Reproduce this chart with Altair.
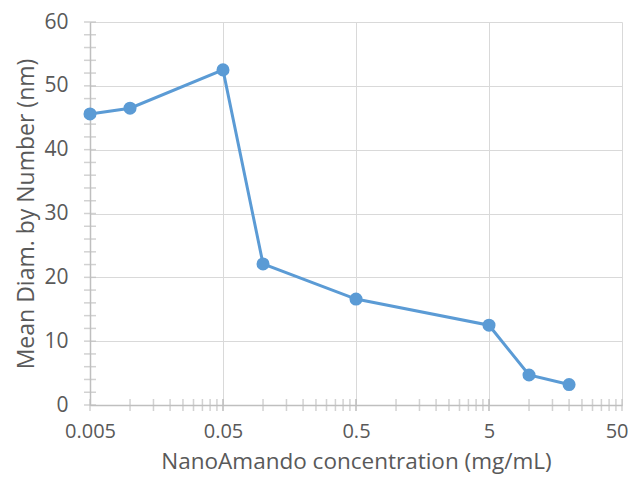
import altair as alt
import pandas as pd

conc = [0.005, 0.01, 0.05, 0.1, 0.5, 5, 10, 20]
diam = [45.6, 46.5, 52.5, 22.1, 16.6, 12.5, 4.7, 3.2]

x_major = [0.005, 0.05, 0.5, 5, 50]
y_major = [0, 10, 20, 30, 40, 50, 60]
x_minor = [round(0.005 * k * 10 ** d, 6) for d in range(4) for k in range(1, 11)]
y_minor = list(range(0, 61, 2))

df = pd.DataFrame({"conc": conc, "diam": diam})
dfx = pd.DataFrame({"t": x_minor})
dfy = pd.DataFrame({"t": y_minor})

FONT = "Open Sans"
GRAY = "#595959"
BLUE = "#5B9BD5"
AX = "#BFBFBF"

xscale = alt.Scale(type="log", domain=[0.005, 50], nice=False)
yscale = alt.Scale(domain=[0, 60], nice=False)

xaxis = alt.Axis(values=x_major, format="~g", title="NanoAmando concentration (mg/mL)",
                 grid=True, gridColor="#D9D9D9", ticks=False, domainColor=AX, domainWidth=1.5,
                 labelFont=FONT, labelFontSize=20, labelColor=GRAY, labelPadding=16,
                 labelFlush=False, labelOverlap=False,
                 labelAlign=alt.condition("datum.value >= 50", alt.value("right"), alt.value("center")),
                 labelOffset=alt.condition("datum.value >= 50", alt.value(6), alt.value(0)),
                 titleFont=FONT, titleFontSize=22.5, titleFontWeight="normal", titleColor=GRAY,
                 titleBaseline="alphabetic", titleY=63)
yaxis = alt.Axis(values=y_major, title="Mean Diam. by Number (nm)",
                 grid=True, gridColor="#D9D9D9", ticks=False, domainColor=AX, domainWidth=1.5,
                 labelFont=FONT, labelFontSize=21, labelColor=GRAY, labelPadding=22,
                 labelFlush=False,
                 titleFont=FONT, titleFontSize=23, titleFontWeight="normal", titleColor=GRAY,
                 titleBaseline="alphabetic", titleAngle=270, titleX=-57)

line = alt.Chart(df).mark_line(color=BLUE, strokeWidth=3).encode(
    x=alt.X("conc:Q", scale=xscale, axis=xaxis),
    y=alt.Y("diam:Q", scale=yscale, axis=yaxis),
)
pts = alt.Chart(df).mark_circle(color=BLUE, size=170, opacity=1).encode(
    x=alt.X("conc:Q"), y=alt.Y("diam:Q"))

xt = alt.Chart(dfx).mark_tick(color=AX, orient="vertical", size=12, thickness=1.5).encode(
    x=alt.X("t:Q"), y=alt.datum(0))
yt = alt.Chart(dfy).mark_tick(color=AX, orient="horizontal", size=12, thickness=1.5).encode(
    y=alt.Y("t:Q"), x=alt.datum(0.005))

chart = alt.layer(xt, yt, line, pts).properties(
    width=532, height=383,
    autosize=alt.AutoSizeParams(type="none"),
    padding={"left": 82, "top": 14, "right": 6, "bottom": 70},
).configure_view(stroke=None)

chart.save("out.html", embed_options={"renderer": "svg", "actions": False})
